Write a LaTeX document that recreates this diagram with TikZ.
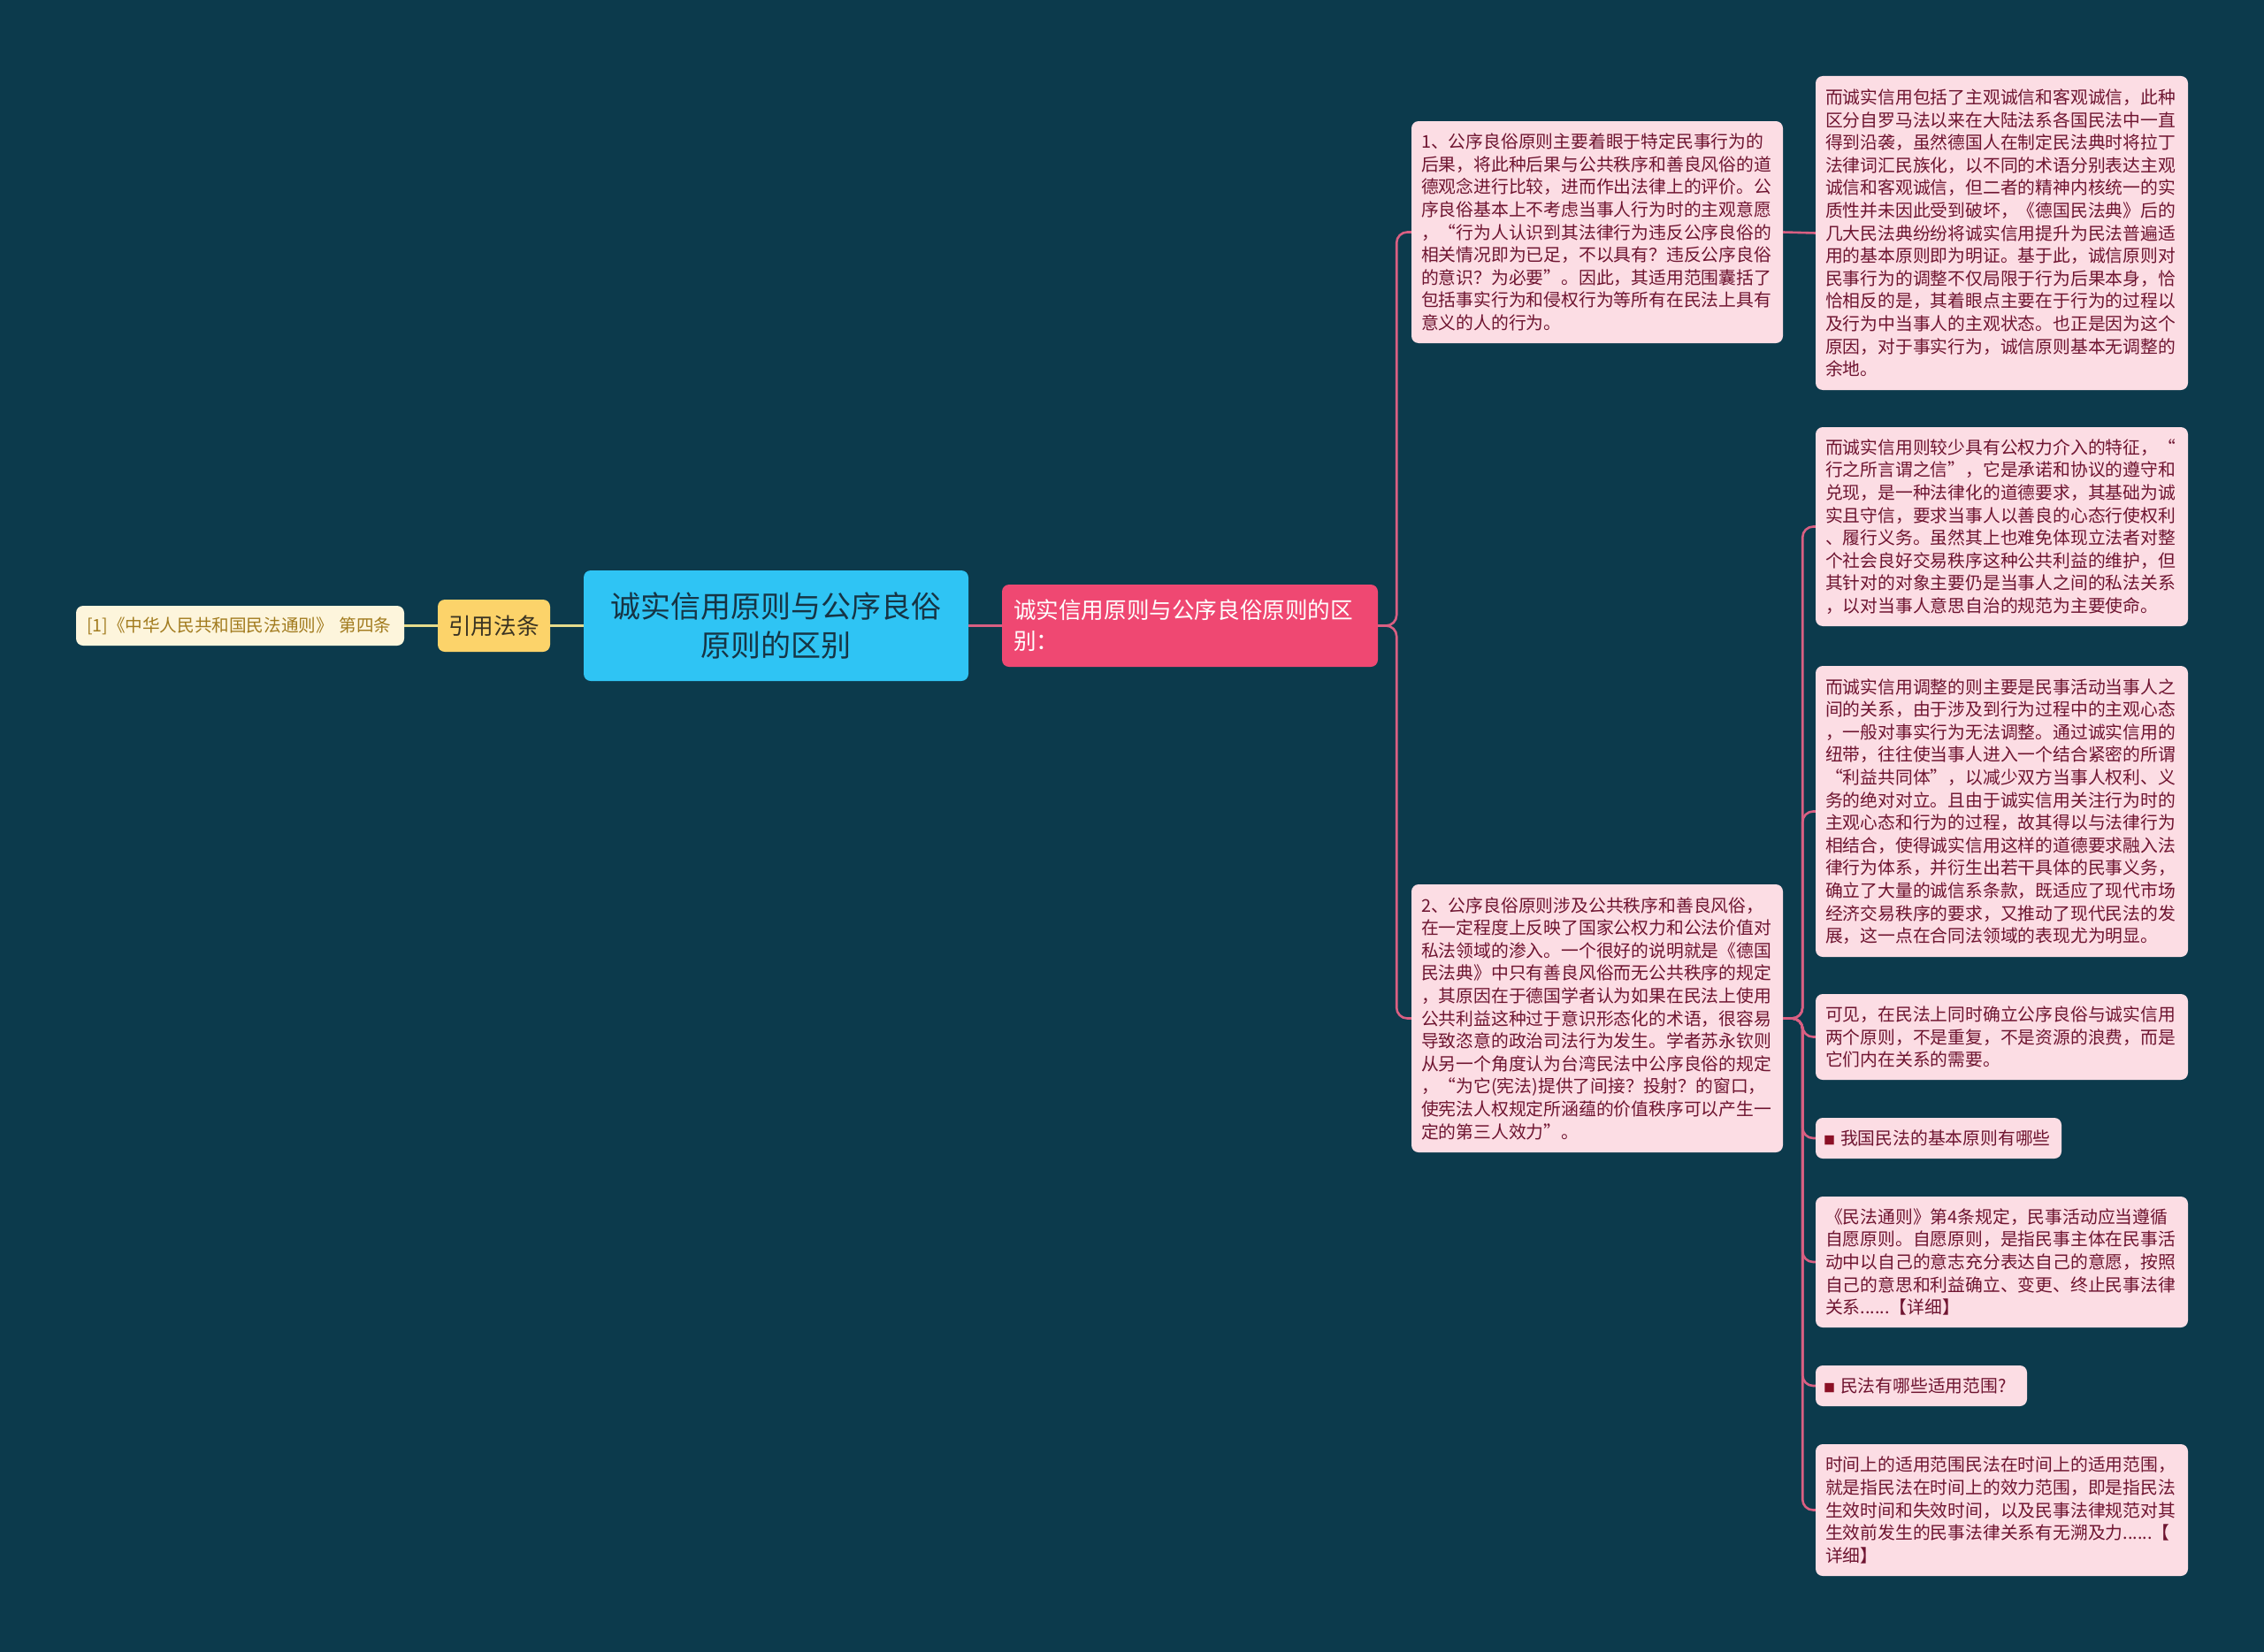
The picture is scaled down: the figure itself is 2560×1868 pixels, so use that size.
\documentclass[tikz,border=0pt]{standalone}
\usepackage{fontspec}
\newfontfamily\cjk{Noto Sans CJK SC}
\usetikzlibrary{calc}
\definecolor{bg}{HTML}{0C3A4C}
\definecolor{rootfill}{HTML}{2FC4F4}
\definecolor{roottext}{HTML}{163444}
\definecolor{pinkfill}{HTML}{EF4872}
\definecolor{leaffill}{HTML}{FCDDE4}
\definecolor{leaftext}{HTML}{6E1430}
\definecolor{bullet}{HTML}{8B1025}
\definecolor{yelfill}{HTML}{FCD36A}
\definecolor{yeltext}{HTML}{3A3322}
\definecolor{citefill}{HTML}{FDF5DC}
\definecolor{citetext}{HTML}{A27B1E}
\definecolor{pinkline}{HTML}{D95F82}
\definecolor{yelline}{HTML}{E6DC8C}
\tikzset{
  box/.style={rectangle, rounded corners=8pt, inner ysep=0pt, align=left},
  leaf/.style={box, fill=leaffill, text=leaftext, inner xsep=11pt,
    font=\cjk\fontsize{19.8}{25.6}\selectfont},
  conn/.style={draw=pinkline, line width=2.6pt, rounded corners=12pt},
  yconn/.style={draw=yelline, line width=2.6pt},
}
\newcommand{\bul}{\mbox{{\color{bullet}\fontsize{13}{13}\selectfont■}\hspace{6pt}}}
\begin{document}
\begin{tikzpicture}[x=1pt,y=-1pt]
\useasboundingbox[fill=bg] (0,0) rectangle (2560,1868);

% root
\node[box, fill=rootfill, text=roottext, align=center, minimum width=435pt, minimum height=125pt,
  font=\cjk\fontsize{34}{44}\selectfont] (root) at (877.5,707.5) {诚实信用原则与公序良俗\\原则的区别};

% left side
\node[box, fill=yelfill, text=yeltext, align=center, minimum width=127pt, minimum height=59pt,
  font=\cjk\fontsize{25.6}{30}\selectfont] (yin) at (558.5,707.5) {引用法条};
\node[box, fill=citefill, text=citetext, inner xsep=12pt, text width=347pt, minimum height=45pt,
  font=\cjk\fontsize{19.6}{24}\selectfont] (cite) at (271.5,707.5) {[1]《中华人民共和国民法通则》 第四条};

% pink main branch
\node[box, fill=pinkfill, text=white, inner xsep=13pt, text width=399pt, minimum height=93pt,
  font=\cjk\fontsize{25.6}{35}\selectfont] (pink) at (1345.5,707.5) {诚实信用原则与公序良俗原则的区\\别：};

% level 2
\node[leaf, text width=398pt, minimum height=251pt] (b1) at (1806,262.5) {1、公序良俗原则主要着眼于特定民事行为的\\后果，将此种后果与公共秩序和善良风俗的道\\德观念进行比较，进而作出法律上的评价。公\\序良俗基本上不考虑当事人行为时的主观意愿\\，“行为人认识到其法律行为违反公序良俗的\\相关情况即为已足，不以具有？违反公序良俗\\的意识？为必要”。因此，其适用范围囊括了\\包括事实行为和侵权行为等所有在民法上具有\\意义的人的行为。};
\node[leaf, text width=398pt, minimum height=303pt] (b2) at (1806,1151.5) {2、公序良俗原则涉及公共秩序和善良风俗，\\在一定程度上反映了国家公权力和公法价值对\\私法领域的渗入。一个很好的说明就是《德国\\民法典》中只有善良风俗而无公共秩序的规定\\，其原因在于德国学者认为如果在民法上使用\\公共利益这种过于意识形态化的术语，很容易\\导致恣意的政治司法行为发生。学者苏永钦则\\从另一个角度认为台湾民法中公序良俗的规定\\，“为它(宪法)提供了间接？投射？的窗口，\\使宪法人权规定所涵蕴的价值秩序可以产生一\\定的第三人效力”。};

% level 3
\node[leaf, text width=399pt, minimum height=355pt] (cA) at (2263.5,263.5) {而诚实信用包括了主观诚信和客观诚信，此种\\区分自罗马法以来在大陆法系各国民法中一直\\得到沿袭，虽然德国人在制定民法典时将拉丁\\法律词汇民族化，以不同的术语分别表达主观\\诚信和客观诚信，但二者的精神内核统一的实\\质性并未因此受到破坏，《德国民法典》后的\\几大民法典纷纷将诚实信用提升为民法普遍适\\用的基本原则即为明证。基于此，诚信原则对\\民事行为的调整不仅局限于行为后果本身，恰\\恰相反的是，其着眼点主要在于行为的过程以\\及行为中当事人的主观状态。也正是因为这个\\原因，对于事实行为，诚信原则基本无调整的\\余地。};
\node[leaf, text width=399pt, minimum height=225pt] (cB) at (2263.5,595.5) {而诚实信用则较少具有公权力介入的特征，“\\行之所言谓之信”，它是承诺和协议的遵守和\\兑现，是一种法律化的道德要求，其基础为诚\\实且守信，要求当事人以善良的心态行使权利\\、履行义务。虽然其上也难免体现立法者对整\\个社会良好交易秩序这种公共利益的维护，但\\其针对的对象主要仍是当事人之间的私法关系\\，以对当事人意思自治的规范为主要使命。};
\node[leaf, text width=399pt, minimum height=329pt] (cC) at (2263.5,917.5) {而诚实信用调整的则主要是民事活动当事人之\\间的关系，由于涉及到行为过程中的主观心态\\，一般对事实行为无法调整。通过诚实信用的\\纽带，往往使当事人进入一个结合紧密的所谓\\“利益共同体”，以减少双方当事人权利、义\\务的绝对对立。且由于诚实信用关注行为时的\\主观心态和行为的过程，故其得以与法律行为\\相结合，使得诚实信用这样的道德要求融入法\\律行为体系，并衍生出若干具体的民事义务，\\确立了大量的诚信系条款，既适应了现代市场\\经济交易秩序的要求，又推动了现代民法的发\\展，这一点在合同法领域的表现尤为明显。};
\node[leaf, text width=399pt, minimum height=97pt] (cD) at (2263.5,1172.5) {可见，在民法上同时确立公序良俗与诚实信用\\两个原则，不是重复，不是资源的浪费，而是\\它们内在关系的需要。};
\node[leaf, inner xsep=9pt, text width=260pt, minimum height=46pt] (cE) at (2192,1287) {\mbox{\bul 我国民法的基本原则有哪些}};
\node[leaf, text width=399pt, minimum height=148pt] (cF) at (2263.5,1427) {《民法通则》第4条规定，民事活动应当遵循\\自愿原则。自愿原则，是指民事主体在民事活\\动中以自己的意志充分表达自己的意愿，按照\\自己的意思和利益确立、变更、终止民事法律\\关系......【详细】};
\node[leaf, inner xsep=9pt, text width=221pt, minimum height=46pt] (cG) at (2172.5,1567) {\mbox{\bul 民法有哪些适用范围?}};
\node[leaf, text width=399pt, minimum height=149pt] (cH) at (2263.5,1707.5) {时间上的适用范围民法在时间上的适用范围，\\就是指民法在时间上的效力范围，即是指民法\\生效时间和失效时间，以及民事法律规范对其\\生效前发生的民事法律关系有无溯及力......【\\详细】};

% connectors
\draw[yconn] (root.west) -- (yin.east);
\draw[yconn] (yin.west) -- (cite.east);
\draw[conn] (root.east) -- (pink.west);

\coordinate (j1) at ($(pink.east)+(21,0)$);
\draw[conn] (pink.east) -- (j1) |- (b1.west);
\draw[conn] (pink.east) -- (j1) |- (b2.west);

\draw[conn] (b1.east) -- (cA.west);

\coordinate (j2) at ($(b2.east)+(22,0)$);
\foreach \c in {cB,cC,cD,cE,cF,cG,cH}{
  \draw[conn] (b2.east) -- (j2) |- (\c.west);
}
\end{tikzpicture}
\end{document}
